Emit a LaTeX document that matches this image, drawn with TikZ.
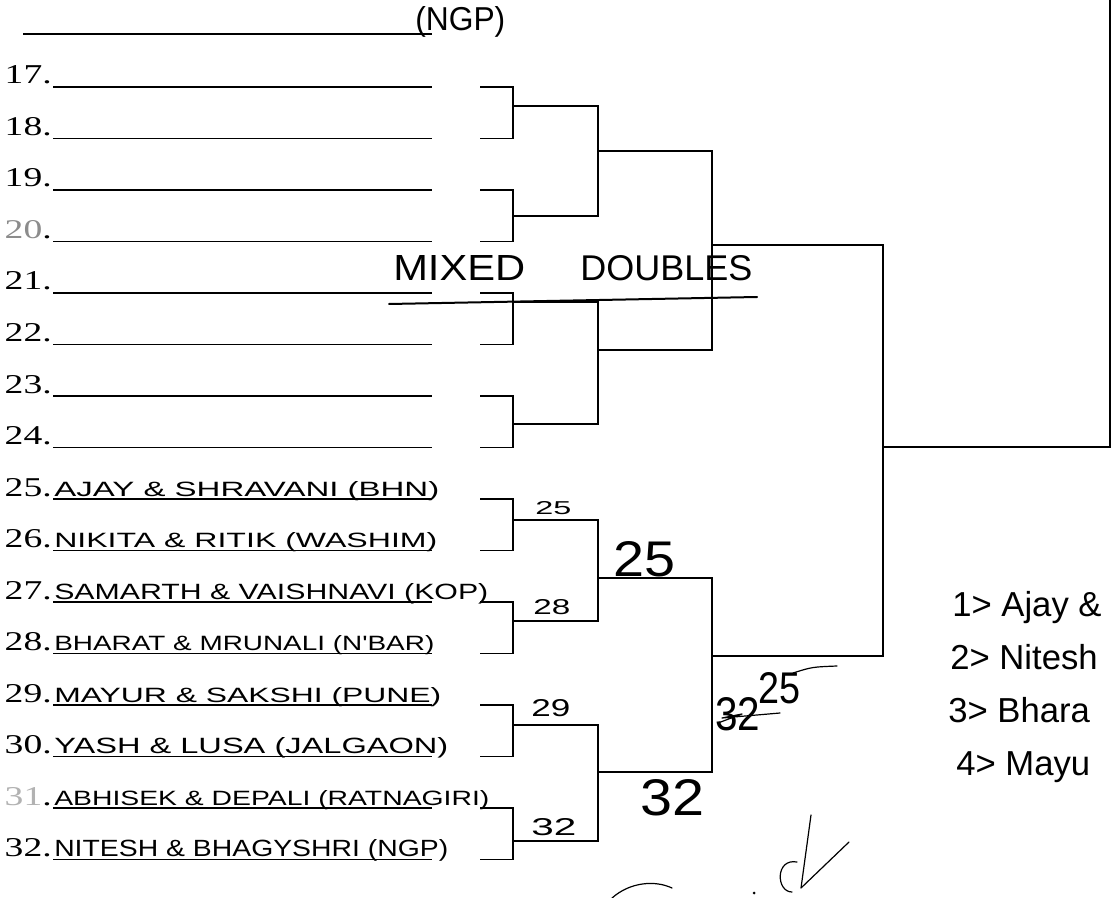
\documentclass[tikz,border=0pt]{standalone}
\usepackage{fontspec}
\usepackage{graphicx}
\setmainfont{Liberation Serif}
\newfontfamily\hand{Liberation Sans}
\usetikzlibrary{positioning}
\newlength\pxl
\setlength\pxl{0.75pt}
\newcommand{\hw}[3]{\resizebox{#1\pxl}{#2\pxl}{\hand #3}}
\tikzset{
  rowline/.style={line width=1.3pt},
  bracket/.style={line width=1.2pt},
  num/.style={anchor=base east, inner sep=0pt},
  team/.style={anchor=base west, inner sep=0pt},
  podium/.style={anchor=base west, inner sep=0pt, font=\fontsize{26}{30}\hand},
  scrawl/.style={line width=0.9pt, line cap=round, line join=round}
}

\begin{document}
\begin{tikzpicture}[x=0.75pt, y=-0.75pt]
  \useasboundingbox (0,0) rectangle (1112,898);
  \clip (0,0) rectangle (1112,898);
  \fill[white] (0,0) rectangle (1112,898);

  % row cut off at the top edge
  \coordinate (s16) at (23,34);
  \coordinate (e16) at (432,34);
  \draw[rowline] (s16) -- (e16);
  \node[team] (p16) at (415,31) {\hw{90}{24}{(NGP)}};

  % numbered rows
  \foreach \i/\t in {17/17.,18/18.,19/19.,20/{\textcolor{black!45}{20}.},21/21.,22/22.,23/23.,24/24.,
      25/25.,26/26.,27/27.,28/28.,29/29.,30/30.,31/{\textcolor{black!30}{31}.},32/32.}{
    \pgfmathsetmacro\yy{87+(\i-17)*51.5}
    \node[num] (n\i) at (52,\yy-3) {\resizebox{47\pxl}{18\pxl}{\t}};
    \coordinate (s\i) at (53,\yy);
    \coordinate (e\i) at (432,\yy);
    \coordinate (k\i) at (480,\yy);
    \draw[rowline] (s\i) -- (e\i);
  }

  \node[team] (p25) at (54,496) {\hw{385}{15}{AJAY \& SHRAVANI (BHN)}};
  \node[team] (p26) at (54,547) {\hw{383}{15}{NIKITA \& RITIK (WASHIM)}};
  \node[team] (p27) at (54,599) {\hw{434}{16}{SAMARTH \& VAISHNAVI (KOP)}};
  \node[team] (p28) at (54,650) {\hw{380}{15}{BHARAT \& MRUNALI (N'BAR)}};
  \node[team] (p29) at (54,702) {\hw{387}{15}{MAYUR \& SAKSHI (PUNE)}};
  \node[team] (p30) at (54,753) {\hw{394}{16}{YASH \& LUSA (JALGAON)}};
  \node[team] (p31) at (54,805) {\hw{435}{15}{ABHISEK \& DEPALI (RATNAGIRI)}};
  \node[team] (p32) at (54,856) {\hw{394}{17}{NITESH \& BHAGYSHRI (NGP)}};

  % first round
  \foreach \a/\b/\o in {17/18/106,19/20/216,21/22/302,23/24/424,25/26/520,27/28/621,29/30/725,31/32/841}{
    \coordinate (w\a) at (513,\o);
    \draw[bracket] (k\a) -| (w\a) |- (k\b);
  }

  % second round
  \coordinate (v17) at (598,151);
  \coordinate (v21) at (598,350);
  \coordinate (v25) at (598,578);
  \coordinate (v29) at (598,772);
  \draw[bracket] (w17) -| (v17) |- (w19);
  \draw[bracket] (w21) -| (v21) |- (w23);
  \draw[bracket] (w25) -| (v25) |- (w27);
  \draw[bracket] (w29) -| (v29) |- (w31);

  % semi final and final
  \coordinate (u17) at (712,245);
  \coordinate (u25) at (712,656);
  \draw[bracket] (v17) -| (u17) |- (v21);
  \draw[bracket] (v25) -| (u25) |- (v29);
  \coordinate (f) at (883,447);
  \coordinate (champ) at (1110,0);
  \draw[bracket] (u17) -| (f) |- (u25);
  \draw[bracket] (f) -| (champ);

  % handwritten marks
  \node[team] (m1) at (393,281) {\hw{132}{25}{MIXED}};
  \node[team] (m2) at (580,281) {\hw{172}{25}{DOUBLES}};
  \draw[scrawl, line width=1.5pt] (389,304) -- (757,297);

  \node[team] (l25) at (535,514) {\hw{36}{13}{25}};
  \node[team] (l28) at (533,614) {\hw{37}{15}{28}};
  \node[team] (l29) at (531,716) {\hw{39}{17}{29}};
  \node[team] (l32) at (531,835) {\hw{45}{17}{32}};
  \node[team] (b25) at (613,576) {\hw{62}{35}{25}};
  \node[team] (b32) at (640,815) {\hw{64}{36}{32}};
  \node[team] (x32) at (715,730) {\hw{45}{33}{32}};
  \draw[scrawl] (718,723) -- (742,714) -- (722,718) -- (780,713);
  \node[team] (x25) at (758,703) {\hw{42}{31}{25}};
  \draw[scrawl] (793,673) .. controls (812,667) .. (837,666);

  \node[podium] (r1) at (952,616) {1> Ajay \&};
  \node[podium] (r2) at (950,669) {2> Nitesh};
  \node[podium] (r3) at (948,722) {3> Bhara};
  \node[podium] (r4) at (956,775) {4> Mayu};

  \draw[scrawl] (811,815) -- (801,888) -- (849,842);
  \draw[scrawl] (797,862) .. controls (775,858) and (776,892) .. (792,892);
  \draw[scrawl] (612,898) .. controls (630,882) and (655,880) .. (672,888);
  \fill (754,893) circle (1.5);
\end{tikzpicture}
\end{document}
